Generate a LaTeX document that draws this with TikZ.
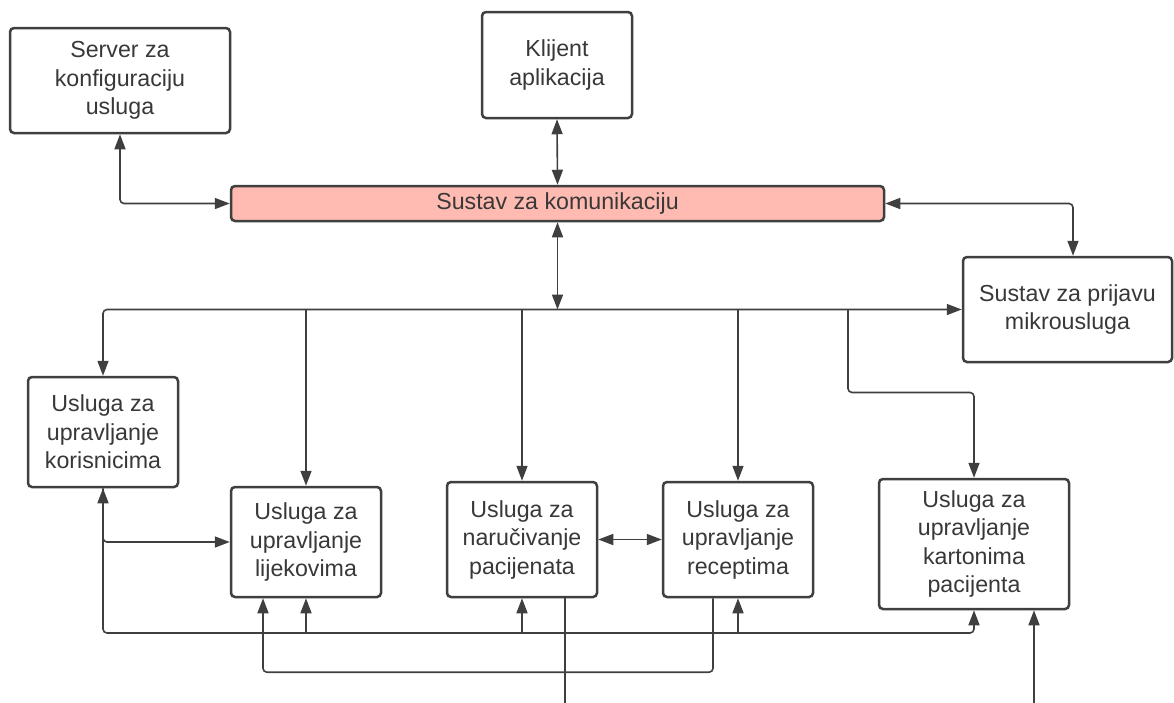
\documentclass[tikz,border=0pt]{standalone}
\usepackage{fontspec}
\setmainfont{Liberation Sans}
\usetikzlibrary{arrows.meta}
\definecolor{txt}{HTML}{383838}
\definecolor{ln}{HTML}{3F3F3F}
\definecolor{pinkfill}{HTML}{FFBBB1}
\begin{document}
\begin{tikzpicture}[x=1pt,y=-1pt,
        box/.style={draw=ln,line width=2.5pt,rounded corners=4pt,align=center,text=txt,inner sep=0pt,font=\fontsize{23.2}{28.5}\selectfont},
        conn/.style={draw=ln,line width=1.6pt,rounded corners=4pt,>={Triangle[length=15pt,width=11pt]}}]
                \useasboundingbox (0,0) rectangle (1174,702);
                \node[box,minimum width=220pt,minimum height=105pt] (srv) at (120,80.5) {Server za\\konfiguraciju\\usluga};
                \node[box,minimum width=150pt,minimum height=106pt] (kli) at (557,65) {Klijent\\aplikacija};
                \node[box,fill=pinkfill,minimum width=653pt,minimum height=35pt] (kom) at (557.5,203.5) {Sustav za komunikaciju};
                \node[box,minimum width=209pt,minimum height=105pt] (pri) at (1067.5,309.5) {Sustav za prijavu\\mikrousluga};
                \node[box,minimum width=150pt,minimum height=110pt] (kor) at (103,432) {Usluga za\\upravljanje\\korisnicima};
                \node[box,minimum width=150pt,minimum height=110pt] (lij) at (306,542) {Usluga za\\upravljanje\\lijekovima};
                \node[box,minimum width=150pt,minimum height=115pt] (nar) at (522,539.5) {Usluga za\\naručivanje\\pacijenata};
                \node[box,minimum width=150pt,minimum height=115pt] (rec) at (738,539.5) {Usluga za\\upravljanje\\receptima};
                \node[box,minimum width=190pt,minimum height=130pt] (kar) at (974,544) {Usluga za\\upravljanje\\kartonima\\pacijenta};
                \coordinate (bus) at (kom.south |- pri.west);
                \coordinate (kb) at (848,309.5);
                \coordinate (bb) at (974,633);
                \draw[conn,<->] (srv.south) |- (kom.west);
                \draw[conn,<->] (kli.south) -- (kom.north);
                \draw[conn,<->] (kom.east) -| ([xshift=5.5pt]pri.north);
                \draw[conn,<->] (kom.south) -- (bus);
                \draw[conn,<->] (kor.north) |- (pri.west);
                \draw[conn,->] (lij.north |- bus) -- (lij.north);
                \draw[conn,->] (nar.north |- bus) -- (nar.north);
                \draw[conn,->] (rec.north |- bus) -- (rec.north);
                \draw[conn,->] (kb) -- ++(0,83) -| (kar.north);
                \draw[conn,<->] (kor.south) |- (lij.west);
                \draw[conn,->] (kor.south) |- (bb) -- (kar.south);
                \draw[conn,->] (lij.south |- bb) -- (lij.south);
                \draw[conn,->] (nar.south |- bb) -- (nar.south);
                \draw[conn,->] (rec.south |- bb) -- (rec.south);
                \draw[conn,->] ([xshift=-25pt]rec.south) -- ++(0,74) -| ([xshift=-43pt]lij.south);
                \draw[conn] ([xshift=43pt]nar.south) -- ++(0,106);
                \draw[conn,<-] ([xshift=60pt]kar.south) -- ++(0,95);
                \draw[conn,<->] (nar.east) -- (rec.west);
            \end{tikzpicture}
\end{document}
